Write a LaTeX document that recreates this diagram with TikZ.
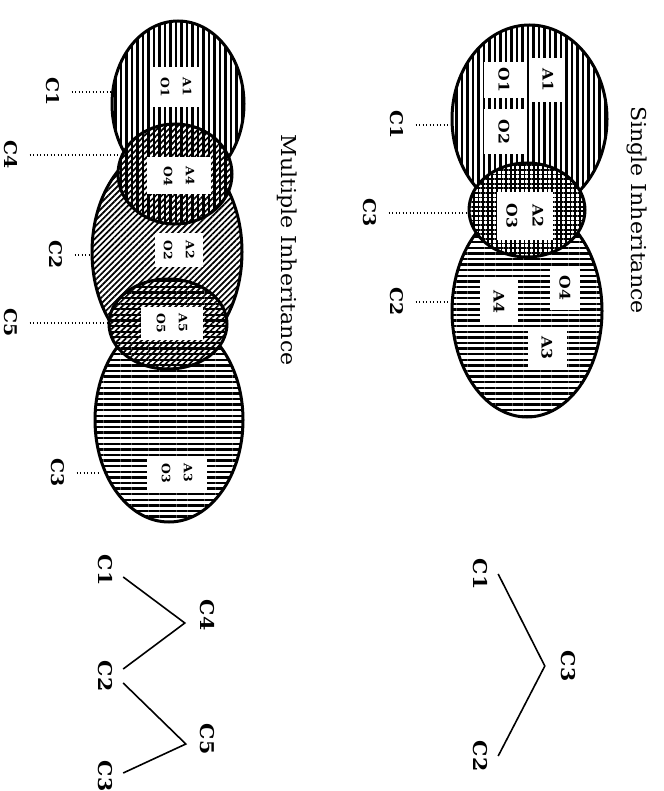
\documentclass[tikz,border=0pt]{standalone}
\usepackage{fontspec}
\setmainfont{DejaVu Serif}[FakeStretch=1.08]
\usetikzlibrary{shapes.geometric,patterns.meta}

\tikzset{
  rim/.style={ellipse, draw, line width=3pt, inner sep=0pt, preaction={fill=white}},
  vlines/.style={pattern={Lines[angle=90,distance=5.5pt,line width=2.4pt]}},
  hlines/.style={pattern={Lines[angle=0,distance=5.6pt,line width=2.4pt]}},
  dlines/.style={pattern={Lines[angle=45,distance=4.2pt,line width=1.7pt]}},
  gridlines/.style={pattern={Hatch[angle=0,distance=4.6pt,line width=1.8pt]}},
  vunder/.style={preaction={pattern={Lines[angle=90,distance=5.5pt,line width=2.2pt]}}},
  hunder/.style={preaction={pattern={Lines[angle=0,distance=5.6pt,line width=2.2pt]}}},
  boxlabel/.style={rotate=-90, fill=white, inner sep=1pt, align=center,
    font=\fontsize{14.5}{26}\bfseries},
  pairlabel/.style={rotate=-90, fill=white, inner sep=1pt, align=center,
    font=\fontsize{11.5}{22}\bfseries},
  classname/.style={rotate=-90, inner sep=2pt, outer sep=10pt,
    font=\fontsize{17.5}{18}\bfseries},
  treename/.style={rotate=-90, inner sep=2pt, outer sep=9pt,
    font=\fontsize{19}{19}\bfseries},
  heading/.style={rotate=-90, inner sep=0pt, font=\fontsize{20.5}{20.5}\selectfont},
  leader/.style={line width=1.2pt, dash pattern=on 1.3pt off 2.2pt},
  branch/.style={line width=1.6pt},
}

\begin{document}
\begin{tikzpicture}[x=1pt, y=-1pt]
\useasboundingbox (0,0) rectangle (663,791);

% ---------- single inheritance: class regions ----------
\node[rim, vlines, minimum width=155pt, minimum height=188pt] (sE1) at (529.5,119) {};
\node[rim, hlines, minimum width=150pt, minimum height=212pt] (sE2) at (527,311) {};
\node[rim, gridlines, minimum width=116pt, minimum height=94pt] (sE3) at (527,210) {};

% members
\node[boxlabel, minimum width=44pt, minimum height=32pt] (sA1) at (548,80) {A1};
\node[boxlabel, minimum width=36pt, minimum height=40pt] (sO1) at (504,80) {O1};
\node[boxlabel, minimum width=45pt, minimum height=40pt] (sO2) at (504,132) {O2};
\node[boxlabel, minimum width=48pt, minimum height=56pt] (sA2) at (525,216) {A2\\O3};
\node[boxlabel, minimum width=43pt, minimum height=30pt] (sO4) at (565,288) {O4};
\node[boxlabel, minimum width=45pt, minimum height=38pt] (sA4) at (499,302) {A4};
\node[boxlabel, minimum width=43pt, minimum height=39pt] (sA3) at (547,348) {A3};

% class names with leaders
\node[classname] (sN1) at (397,125) {C1};
\node[classname] (sN3) at (370,213) {C3};
\node[classname] (sN2) at (397,302) {C2};
\coordinate (sK1) at (452,125);
\coordinate (sK3) at (469,213);
\coordinate (sK2) at (452,302);
\draw[leader] (sN1.north) -- (sK1);
\draw[leader] (sN3.north) -- (sK3);
\draw[leader] (sN2.north) -- (sK2);

\node[heading] (sHead) at (637,210) {Single Inheritance};

% ---------- multiple inheritance: class regions ----------
\node[rim, vlines, minimum width=132pt, minimum height=166pt] (mE1) at (178,104) {};
\node[rim, dlines, minimum width=150pt, minimum height=214pt] (mE2) at (167,252) {};
\node[rim, hlines, minimum width=148pt, minimum height=204pt] (mE3) at (169,420) {};
\node[rim, vunder, dlines, minimum width=114pt, minimum height=100pt] (mE4) at (175,174) {};
\node[rim, hunder, dlines, minimum width=118pt, minimum height=90pt] (mE5) at (168,324) {};

% members
\node[pairlabel, minimum width=40pt, minimum height=52pt] (mP1) at (176,87) {A1\\O1};
\node[pairlabel, minimum width=37pt, minimum height=64pt] (mP4) at (179,176) {A4\\O4};
\node[pairlabel, minimum width=34pt, minimum height=48pt] (mP2) at (179,250) {A2\\O2};
\node[pairlabel, minimum width=33pt, minimum height=62pt] (mP5) at (172,323) {A5\\O5};
\node[pairlabel, minimum width=33pt, minimum height=60pt] (mP3) at (177,473) {A3\\O3};

% class names with leaders
\node[classname] (mN1) at (53,92) {C1};
\node[classname] (mN4) at (11,155) {C4};
\node[classname] (mN2) at (56,255) {C2};
\node[classname] (mN5) at (11,323) {C5};
\node[classname] (mN3) at (58,473) {C3};
\coordinate (mK1) at (113,92);
\coordinate (mK4) at (122,155);
\coordinate (mK2) at (92,255);
\coordinate (mK5) at (110,323);
\coordinate (mK3) at (100,473);
\draw[leader] (mN1.north) -- (mK1);
\draw[leader] (mN4.north) -- (mK4);
\draw[leader] (mN2.north) -- (mK2);
\draw[leader] (mN5.north) -- (mK5);
\draw[leader] (mN3.north) -- (mK3);

\node[heading] (mHead) at (287,250) {Multiple Inheritance};

% ---------- single inheritance: class tree ----------
\node[treename] (sT1) at (480,574) {C1};
\node[treename] (sT3) at (568,666) {C3};
\node[treename] (sT2) at (480,756) {C2};
\coordinate (sJ) at ([xshift=-5pt]sT3.south);
\draw[branch] (sT1.north) -- (sJ) -- (sT2.north);

% ---------- multiple inheritance: class tree ----------
\node[treename] (mT1) at (105,570) {C1};
\node[treename] (mT4) at (207,615) {C4};
\node[treename] (mT2) at (105,676) {C2};
\node[treename] (mT5) at (207,739) {C5};
\node[treename] (mT3) at (105,776) {C3};
\coordinate (mJ4) at ([xshift=-4pt,yshift=-8pt]mT4.south);
\coordinate (mJ5) at ([xshift=-3pt,yshift=-5pt]mT5.south);
\draw[branch] ([yshift=-7pt]mT1.north) -- (mJ4) -- ([yshift=7pt]mT2.north);
\draw[branch] ([yshift=-7pt]mT2.north) -- (mJ5) -- ([yshift=3pt]mT3.north);
\end{tikzpicture}
\end{document}
